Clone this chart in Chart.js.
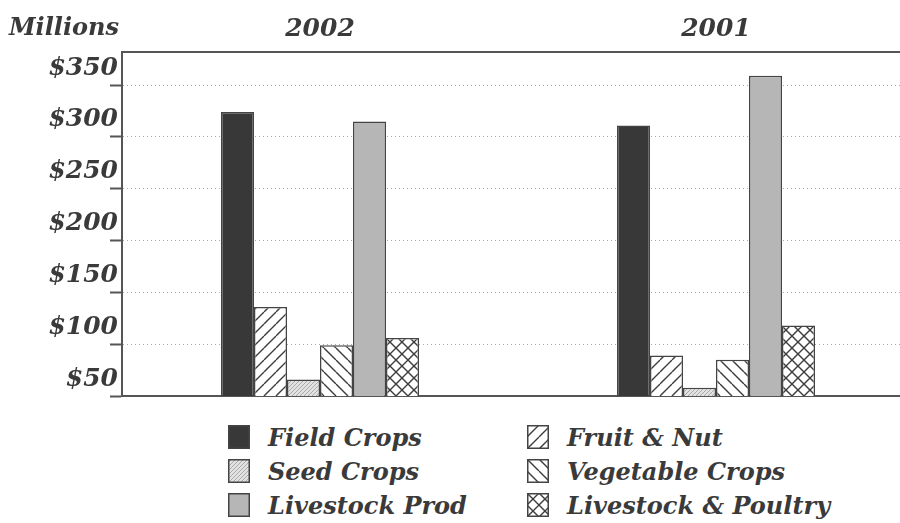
<!DOCTYPE html>
<html>
<head>
<meta charset="utf-8">
<script src="https://cdn.jsdelivr.net/npm/chart.js@4/dist/chart.umd.min.js"></script>
<style>
    html, body {
        margin: 0;
        padding: 0;
        background: #ffffff;
        width: 900px;
        height: 523px;
        overflow: hidden;
    }
    #wrap {
        position: relative;
        width: 900px;
        height: 523px;
        overflow: hidden;
        font-family: 'DejaVu Serif', serif;
        font-style: italic;
        font-weight: bold;
        color: #3a3a3a;
    }
    #units {
        position: absolute;
        left: 9px;
        top: 12px;
        font-size: 24px;
        line-height: 30px;
    }
    #chartBox {
        position: absolute;
        left: 0;
        top: 0;
    }
    #legend {
        position: absolute;
        left: 0;
        top: 420px;
        width: 900px;
    }
    .item {
        position: absolute;
        height: 34px;
        display: flex;
        align-items: center;
        font-size: 24px;
        white-space: nowrap;
    }
    .item canvas {
        margin-right: 18px;
    }
</style>
</head>
<body>
<div id="wrap">
    <canvas id="chartBox" width="914" height="403"></canvas>
    <div id="units">Millions</div>
    <div id="legend"></div>
</div>
<script>
// --- data (millions of dollars) ---
const years = ['2002', '2001'];
const fieldCrops = [324, 311];
const fruitNut = [136, 89];
const seedCrops = [66, 58];
const vegetableCrops = [99, 85];
const livestockProd = [315, 359];
const livestockPoultry = [106, 118];
const yTicks = [50, 100, 150, 200, 250, 300, 350];

const seriesNames = ['Field Crops', 'Fruit & Nut', 'Seed Crops', 'Vegetable Crops', 'Livestock Prod', 'Livestock & Poultry'];
const seriesValues = [fieldCrops, fruitNut, seedCrops, vegetableCrops, livestockProd, livestockPoultry];
const seriesFills = ['dark', 'slash', 'stipple', 'backslash', 'light', 'cross'];

const ink = '#3a3a3a';
const edge = '#444444';

/**
 * Build a fill (colour or hatch pattern) for a given context
 */
function makeFill(ctx, kind) {
    if (kind === 'dark') return '#383838';
    if (kind === 'light') return '#b6b6b6';

    const tile = document.createElement('canvas');
    const s = kind === 'stipple' ? 4 : 12;
    tile.width = s;
    tile.height = s;
    const t = tile.getContext('2d');
    t.fillStyle = kind === 'stipple' ? '#e2e2e2' : '#ffffff';
    t.fillRect(0, 0, s, s);
    t.strokeStyle = kind === 'stipple' ? '#9a9a9a' : '#3c3c3c';
    t.lineWidth = kind === 'stipple' ? 0.8 : 1.4;

    const slash = () => {
        t.beginPath();
        for (let k = -1; k <= 1; k++) {
            t.moveTo(k * s, s);
            t.lineTo(k * s + s, 0);
        }
        t.stroke();
    };
    const backslash = () => {
        t.beginPath();
        for (let k = -1; k <= 1; k++) {
            t.moveTo(k * s, 0);
            t.lineTo(k * s + s, s);
        }
        t.stroke();
    };

    if (kind === 'slash' || kind === 'stipple') slash();
    if (kind === 'backslash') backslash();
    if (kind === 'cross') { slash(); backslash(); }

    return ctx.createPattern(tile, 'repeat');
}

const canvas = document.getElementById('chartBox');
const mainCtx = canvas.getContext('2d');

Chart.defaults.font.family = "'DejaVu Serif', serif";
Chart.defaults.font.style = 'italic';
Chart.defaults.font.weight = 'bold';
Chart.defaults.color = ink;

const chart = new Chart(canvas, {
    type: 'bar',
    data: {
        labels: years,
        datasets: seriesNames.map((name, i) => ({
            label: name,
            data: seriesValues[i],
            backgroundColor: makeFill(mainCtx, seriesFills[i]),
            borderColor: edge,
            borderWidth: 1.5,
            borderSkipped: 'bottom',
            categoryPercentage: 0.5,
            barPercentage: 1.0
        }))
    },
    options: {
        responsive: false,
        animation: false,
        layout: { padding: 0 },
        plugins: {
            legend: { display: false },
            tooltip: { enabled: false }
        },
        scales: {
            x: {
                position: 'top',
                grid: { display: false, drawTicks: false },
                border: { display: true, color: '#555555', width: 2 },
                ticks: {
                    padding: 8,
                    font: { size: 25 }
                },
                afterFit(scale) { scale.height = 52; }
            },
            x2: {
                type: 'category',
                labels: years,
                position: 'bottom',
                grid: { display: false, drawTicks: false },
                border: { display: true, color: '#555555', width: 2 },
                ticks: { display: false },
                afterFit(scale) { scale.height = 3; }
            },
            y: {
                min: 50,
                max: 382,
                afterBuildTicks(scale) {
                    scale.ticks = yTicks.map(v => ({ value: v }));
                },
                grid: {
                    color: '#a8a8a8',
                    lineWidth: 1,
                    tickLength: 12,
                    tickColor: '#555555',
                    tickWidth: 2,
                    tickBorderDash: []
                },
                border: { display: true, color: '#555555', width: 2, dash: [1, 3] },
                ticks: {
                    padding: -8,
                    labelOffset: -17,
                    font: { size: 25 },
                    callback: function (value) {
                        return '$' + value;
                    }
                },
                afterFit(scale) { scale.width = 122; }
            }
        }
    }
});

/**
 * HTML legend, two columns, filled row by row from the datasets
 */
const legendBox = document.getElementById('legend');
const colX = [228, 527];
chart.data.datasets.forEach((ds, i) => {
    const item = document.createElement('div');
    item.className = 'item';
    item.style.left = colX[i % 2] + 'px';
    item.style.top = (Math.floor(i / 2) * 34) + 'px';

    const sw = document.createElement('canvas');
    sw.width = 22;
    sw.height = 24;
    const sctx = sw.getContext('2d');
    sctx.fillStyle = makeFill(sctx, seriesFills[i]);
    sctx.fillRect(0, 0, 22, 24);
    sctx.strokeStyle = edge;
    sctx.lineWidth = 1.5;
    sctx.strokeRect(0.75, 0.75, 20.5, 22.5);

    const txt = document.createElement('span');
    txt.textContent = ds.label;

    item.appendChild(sw);
    item.appendChild(txt);
    legendBox.appendChild(item);
});
</script>
</body>
</html>
